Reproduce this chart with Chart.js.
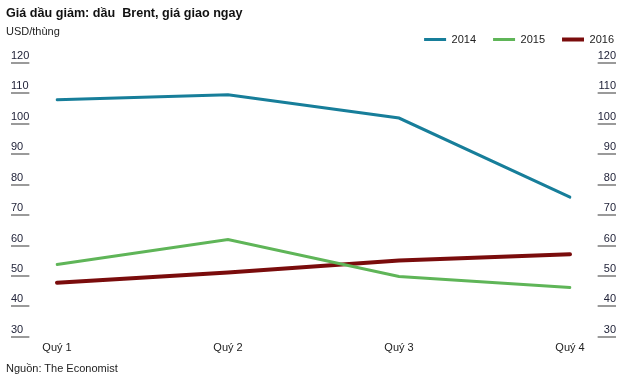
<!DOCTYPE html>
<html><head><meta charset="utf-8">
<script src="https://cdn.jsdelivr.net/npm/chart.js@4/dist/chart.umd.min.js"></script>
<style>
html,body{margin:0;padding:0;background:#fff;}
#wrap{position:relative;width:640px;height:381px;overflow:hidden;}
canvas{position:absolute;left:0;top:0;}
.t{position:absolute;left:6px;font-family:"Liberation Sans",Arial,sans-serif;color:#111;white-space:pre;}
#title{top:6px;font-size:12.6px;font-weight:bold;line-height:15px;}
#sub{top:25px;font-size:11px;line-height:13px;color:#222;}
#src{top:362px;font-size:11px;line-height:13px;color:#222;}
</style></head><body>
<div id="wrap"><canvas id="c" width="640" height="381"></canvas>
<div class="t" id="title">Giá dầu giảm: dầu  Brent, giá giao ngay</div>
<div class="t" id="sub">USD/thùng</div>
<div class="t" id="src">Nguồn: The Economist</div>
</div>
<script>
const categories = ['Quý 1', 'Quý 2', 'Quý 3', 'Quý 4'];
const seriesNames = ['2014', '2015', '2016'];
const values2014 = [107.9, 109.6, 101.9, 75.9];
const values2015 = [53.8, 62.0, 49.8, 46.2];
const values2016 = [47.8, 51.1, 55.1, 57.1];
const yMin = 30, yMax = 120, yStep = 10;

const colors = ['#177e9a', '#5fb558', '#7a0c0c'];
const widths = [3, 3, 4];
const allValues = [values2014, values2015, values2016];

const tickFont = {family: '"Liberation Sans", Arial, sans-serif', size: 11};

const underlinePlugin = {
  id: 'tickUnderline',
  afterDraw(chart) {
    const ctx = chart.ctx;
    ['y', 'y2'].forEach(id => {
      const s = chart.scales[id];
      ctx.save();
      ctx.font = '11px "Liberation Sans", Arial, sans-serif';
      const w = Math.max(...s.ticks.map(t => ctx.measureText(String(t.label)).width));
      ctx.strokeStyle = '#9a9a9a';
      ctx.lineWidth = 2;
      s.ticks.forEach(t => {
        const y = Math.round(s.getPixelForValue(t.value));
        const x0 = id === 'y' ? s.left : s.right - w;
        ctx.beginPath();
        ctx.moveTo(x0, y);
        ctx.lineTo(x0 + w, y);
        ctx.stroke();
      });
      ctx.restore();
    });
  }
};

const legendShift = {
  id: 'legendShift',
  afterLayout(chart) {
    const lg = chart.legend;
    if (!lg) return;
    lg.left += 15; lg.right += 15;
    lg.top -= 8; lg.bottom -= 8;
  }
};

const yAxis = (pos) => ({
  position: pos,
  min: yMin, max: yMax,
  grid: {display: false, drawTicks: false},
  border: {display: false},
  ticks: {stepSize: yStep, crossAlign: 'far', labelOffset: -7, padding: 0, font: tickFont, color: '#22243a'},
  afterFit(scale) { scale.width = 46; }
});

new Chart(document.getElementById('c'), {
  type: 'line',
  data: {
    labels: categories,
    datasets: seriesNames.map((n, i) => ({
      label: n,
      data: allValues[i],
      borderColor: colors[i],
      backgroundColor: colors[i],
      borderWidth: widths[i],
      borderCapStyle: 'round',
      pointRadius: 0,
      tension: 0,
      yAxisID: 'y'
    }))
  },
  options: {
    responsive: false,
    animation: false,
    devicePixelRatio: 1,
    layout: {padding: {left: 11, right: 24, top: 25, bottom: 21}},
    plugins: {
      legend: {
        position: 'top', align: 'end',
        labels: {
          usePointStyle: true, pointStyle: 'line', pointStyleWidth: 22,
          font: {family: '"Liberation Sans", Arial, sans-serif', size: 11},
          color: '#222', padding: 17, boxHeight: 12
        }
      },
      tooltip: {enabled: false}
    },
    scales: {
      x: {
        offset: false,
        grid: {display: false, drawTicks: false},
        border: {display: false},
        ticks: {font: tickFont, color: '#222', padding: 5, maxRotation: 0}
      },
      y: yAxis('left'),
      y2: yAxis('right')
    }
  },
  plugins: [underlinePlugin, legendShift]
});
</script>
</body></html>
